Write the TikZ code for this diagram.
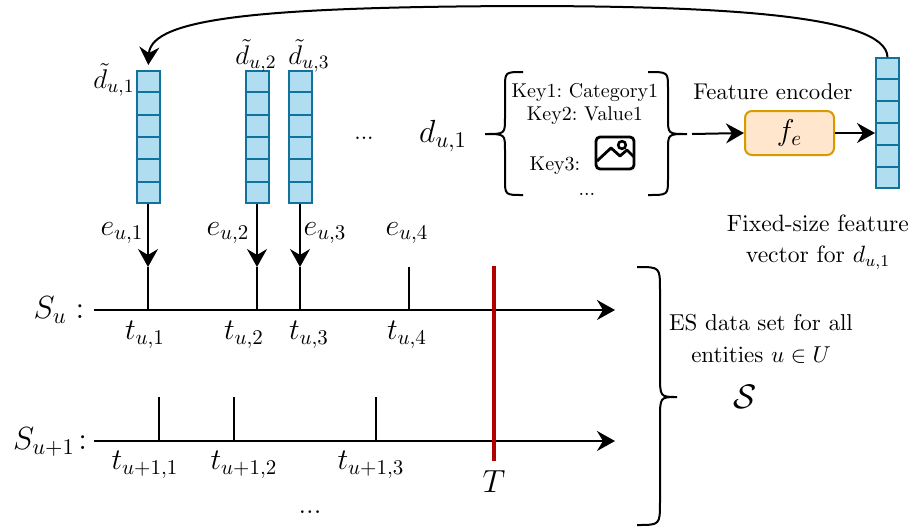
\RequirePackage{fix-cm}
\documentclass[tikz,border=0pt]{standalone}
\usepackage[OT1]{fontenc}
\usetikzlibrary{arrows.meta,calc}
\definecolor{vfill}{HTML}{B1DDF0}
\definecolor{vline}{HTML}{10739E}
\definecolor{ffill}{HTML}{FFE6CC}
\definecolor{fline}{HTML}{D79B00}
\definecolor{tred}{HTML}{B20000}
\frenchspacing
\begin{document}
\begin{tikzpicture}[x=0.5pt,y=-0.5pt,
  arr/.style={-{Stealth[length=9pt,width=10pt,inset=3pt]}, line width=1pt},
  tickline/.style={line width=0.9pt},
  bracepath/.style={line width=1pt},
  vecbox/.style={draw=vline, fill=vfill, line width=1pt, inner sep=0pt, minimum width=11.5pt, minimum height=66pt},
  mlab/.style={inner sep=0pt, font=\fontsize{15}{18}\selectfont},
  dlab/.style={inner sep=0pt, font=\fontsize{13.5}{16}\selectfont},
  keytxt/.style={inner sep=0pt, font=\fontsize{10}{12}\selectfont},
  bigtxt/.style={inner sep=0pt, align=center, font=\fontsize{11.6}{15.5}\selectfont},
]
\useasboundingbox (0,0) rectangle (918,527);

% feature vectors
\node[vecbox] (v1) at (148,137) {};
\node[vecbox] (v2) at (257,137) {};
\node[vecbox] (v3) at (300,137) {};
\node[vecbox, minimum height=65pt] (v4) at (887.5,123) {};
\foreach \v in {v1,v2,v3,v4}
  \foreach \i in {1,...,5}
    \draw[vline, line width=1pt] ($(\v.north west)!\i/6!(\v.south west)$) -- ($(\v.north east)!\i/6!(\v.south east)$);

\node[dlab] (dt1) at (114,80) {$\tilde{d}_{u,1}$};
\node[dlab] (dt2) at (256,56) {$\tilde{d}_{u,2}$};
\node[dlab] (dt3) at (309,56) {$\tilde{d}_{u,3}$};
\node[inner sep=0pt, font=\fontsize{11.5}{14}\selectfont] (dots1) at (364,138) {...};

% curved feedback arrow
\draw[arr, shorten >=2.5pt] (v4.north) .. controls (886,15) and (720,6) .. (520,6)
  .. controls (262,7) and (151,18) .. (v1.north);

% data point d_{u,1}
\node[inner sep=0pt, font=\fontsize{16}{19}\selectfont] (du1) at (443,136) {$d_{u,1}$};
\draw[bracepath] (523,72) .. controls (505,72) .. (505,88) -- (505,118)
  .. controls (505,134) .. (485,134) .. controls (505,134) .. (505,150)
  -- (505,179) .. controls (505,195) .. (523,195);
\draw[bracepath] (648,72) .. controls (668,72) .. (668,88) -- (668,118)
  .. controls (668,134) .. (687,134) .. controls (668,134) .. (668,150)
  -- (668,179) .. controls (668,195) .. (648,195);
\node[keytxt] (k1) at (585,93) {Key1: Category1};
\node[keytxt] (k2) at (585,115) {Key2: Value1};
\node[keytxt] (k3) at (555,166) {Key3:};
\node[keytxt] (k4) at (587,194) {...};
% image icon
\draw[line width=1.4pt, rounded corners=2pt] (596,137) rectangle (634,169);
\draw[line width=1.3pt] (622,145) circle[radius=1.9pt];
\draw[line width=1.4pt, line join=round] (597,161) -- (611,148) -- (620,156) -- (627,150) -- (634,157);

% feature encoder
\coordinate (btip) at (692,134);
\node[draw=fline, fill=ffill, line width=1pt, rounded corners=3.5pt, minimum width=44.5pt, minimum height=22pt, inner sep=0pt, font=\fontsize{15}{18}\selectfont] (fe) at (789.5,133) {$f_e$};
\node[bigtxt, font=\fontsize{11.4}{15.5}\selectfont] (fetxt) at (773,92) {Feature encoder};
\draw[arr] (btip) -- (fe.west);
\draw[arr] (fe.east) -- (fe.east -| v4.west);
\node[bigtxt, font=\fontsize{11.8}{15.5}\selectfont] (fixtxt) at (818,242.5) {Fixed-size feature\\vector for $d_{u,1}$};

% timeline S_u
\node[inner sep=0pt, font=\fontsize{16}{19}\selectfont] (Su) at (59,310) {$S_u:$};
\coordinate (sa0) at (94,310);
\coordinate (sa1) at (615,310);
\draw[arr] (sa0) -- (sa1);
\foreach \n/\x in {1/148,2/257,3/300,4/409} {
  \coordinate (ub\n) at (\x,310);
  \coordinate (ut\n) at (\x,267);
  \draw[tickline] (ub\n) -- (ut\n);
}
\draw[arr] (v1.south) -- (ut1);
\draw[arr] (v2.south) -- (ut2);
\draw[arr] (v3.south) -- (ut3);
\node[mlab] (e1) at (122,233) {$e_{u,1}$};
\node[mlab] (e2) at (228,233) {$e_{u,2}$};
\node[mlab] (e3) at (325,233) {$e_{u,3}$};
\node[mlab] (e4) at (407,233) {$e_{u,4}$};
\node[mlab] (t1) at (145,335) {$t_{u,1}$};
\node[mlab] (t2) at (244,335) {$t_{u,2}$};
\node[mlab] (t3) at (309,335) {$t_{u,3}$};
\node[mlab] (t4) at (407,335) {$t_{u,4}$};

% timeline S_{u+1}
\node[inner sep=0pt, font=\fontsize{16}{19}\selectfont] (Sv) at (50,442) {$S_{u+1}\!:$};
\coordinate (sb0) at (94,441);
\coordinate (sb1) at (615,441);
\draw[arr] (sb0) -- (sb1);
\foreach \n/\x in {1/159,2/234,3/376} {
  \coordinate (vb\n) at (\x,441);
  \coordinate (vt\n) at (\x,397);
  \draw[tickline] (vb\n) -- (vt\n);
}
\node[mlab] (s1) at (145,465) {$t_{u+1,1}$};
\node[mlab] (s2) at (244,465) {$t_{u+1,2}$};
\node[mlab] (s3) at (371,465) {$t_{u+1,3}$};
\node[inner sep=0pt, font=\fontsize{14}{16}\selectfont] (dots2) at (310,512) {...};

% T line
\coordinate (Ttop) at (494,266);
\coordinate (Tbot) at (494,461);
\draw[tred, line width=2pt] (Ttop) -- (Tbot);
\node[inner sep=0pt, font=\fontsize{16}{19}\selectfont] (Tl) at (494,482) {$T$};

% big brace and dataset label
\draw[bracepath] (637,267) .. controls (660,267) .. (660,290) -- (660,374)
  .. controls (660,397) .. (677,397) .. controls (660,397) .. (660,420)
  -- (660,502) .. controls (660,525) .. (637,525);
\node[bigtxt, font=\fontsize{11.5}{16}\selectfont] (es) at (761,339) {ES data set for all\\entities $u\in U$};
\node[inner sep=0pt, font=\fontsize{17}{20}\selectfont] (cs) at (745,397) {$\mathcal{S}$};
\end{tikzpicture}
\end{document}
